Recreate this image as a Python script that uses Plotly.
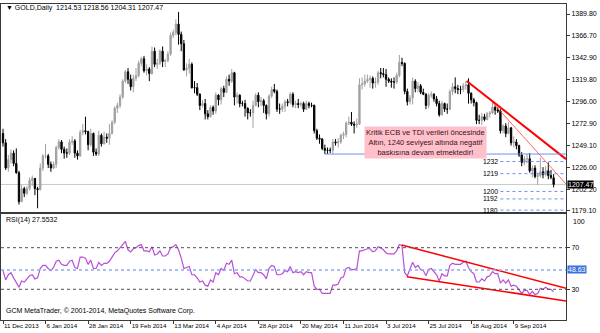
import pandas as pd
import plotly.graph_objects as go

# ---------------- data ----------------
opens = [
    1262,1252,1225,1234,1241,1230,1220,1189,1203,1198,1203,1212,1214,1203,
    1202,1225,1238,1238,1229,1225,1229,1247,1253,1245,1241,1241,1253,1254,1241,1238,1263,1265,1264,1250,1262,1242,
    1240,1260,1251,1258,1257,1262,1274,1289,1292,1301,1318,1328,1320,1312,1321,1324,1337,1342,1329,1331,
    1326,1350,1336,1337,1350,1339,1340,1347,1367,1370,1379,1368,1358,1330,1332,1336,1311,1311,1304,1292,1294,
    1283,1280,1290,1286,1303,1298,1310,1306,1320,1318,1327,1301,1303,1294,1294,1289,1284,1284,1292,1303,1296,1297,
    1292,1283,1302,1309,1307,1288,1288,1291,1296,1295,1304,1293,1294,1293,1294,1288,1294,1292,1292,1265,1257,1256,
    1246,1244,1244,1244,1253,1252,1253,1260,1261,1273,1274,1272,1271,1272,1314,1315,1318,1320,1321,1316,1317,
    1327,1326,1325,1320,1318,1317,1317,1324,1338,1337,1307,1296,1300,1318,1310,1313,1306,1304,1292,1303,1304,1299,1294,
    1282,1294,1288,1288,1307,1312,1310,1309,1309,1313,1314,1305,1298,1295,1276,1276,1280,1277,1283,1284,1290,
    1287,1286,1265,1270,1262,1268,1252,1253,1249,1239,1231,1235,1235,1222,1225,1216,1217,1221,1218,1222,1217,1214.53,
]
highs = [
    1267,1256,1239,1245,1244,1246,1222,1207,1205,1206,1215,1217,1214,1205,
    1230,1240,1251,1240,1232,1232,1249,1256,1255,1248,1246,1256,1259,1256,1244,1266,1272,1280,1265,1267,1263,1246,
    1265,1262,1264,1262,1272,1276,1291,1295,1304,1320,1330,1332,1325,1325,1332,1340,1344,1345,1336,1333,
    1355,1354,1342,1352,1355,1342,1350,1370,1373,1384,1392,1371,1362,1337,1342,1338,1318,1316,1305,1298,1299,
    1287,1292,1292,1306,1304,1312,1313,1323,1325,1331,1328,1306,1304,1297,1298,1290,1288,1297,1305,1306,1301,1299,
    1293,1304,1312,1315,1309,1294,1294,1298,1299,1306,1306,1297,1299,1296,1296,1297,1296,1295,1293,1267,1261,1257,
    1250,1247,1247,1256,1256,1257,1262,1264,1275,1280,1285,1275,1278,1321,1322,1325,1325,1324,1323,1322,1329,
    1332,1332,1331,1322,1321,1322,1327,1346,1343,1338,1310,1303,1322,1320,1317,1315,1310,1305,1305,1307,1305,1302,1297,
    1297,1295,1294,1309,1316,1322,1314,1313,1316,1318,1321,1306,1300,1296,1282,1284,1283,1285,1286,1296,1292,
    1290,1288,1272,1273,1274,1269,1259,1256,1250,1242,1238,1240,1241,1228,1228,1220,1236,1226,1227,1231,1223,1218.56,
]
lows = [
    1248,1223,1221,1230,1227,1219,1186,1189,1194,1196,1201,1206,1196,1182,
    1201,1222,1235,1225,1221,1224,1225,1245,1241,1235,1236,1239,1250,1236,1234,1237,1260,1261,1244,1248,1238,1238,
    1238,1248,1250,1252,1250,1261,1272,1284,1289,1299,1316,1315,1308,1306,1318,1322,1334,1327,1324,1318,
    1325,1333,1331,1335,1333,1333,1338,1345,1364,1367,1357,1350,1329,1323,1326,1310,1305,1302,1287,1290,1277,
    1277,1279,1282,1283,1292,1293,1301,1305,1313,1316,1292,1294,1290,1291,1280,1277,1280,1268,1291,1290,1291,1284,
    1277,1280,1300,1305,1285,1283,1285,1285,1291,1293,1290,1289,1289,1290,1285,1287,1289,1290,1262,1255,1251,1244,
    1240,1240,1241,1240,1249,1247,1251,1256,1258,1271,1270,1262,1268,1271,1309,1312,1316,1311,1310,1311,1314,
    1321,1322,1312,1316,1311,1310,1315,1322,1334,1304,1292,1293,1293,1306,1306,1304,1303,1288,1289,1300,1296,1291,1280,
    1281,1285,1283,1287,1303,1305,1304,1304,1306,1309,1294,1294,1291,1272,1272,1271,1275,1276,1279,1283,1282,
    1284,1262,1262,1258,1261,1249,1247,1245,1237,1227,1228,1230,1220,1215,1214,1207,1215,1214,1216,1213,1213,1204.31,
]
closes = [
    1252,1225,1234,1241,1230,1220,1189,1203,1198,1203,1212,1214,1203,1202,
    1225,1238,1238,1229,1225,1229,1247,1253,1245,1241,1241,1253,1254,1241,1238,1263,1265,1264,1250,1262,1242,1240,
    1260,1251,1258,1257,1262,1274,1289,1292,1301,1318,1328,1320,1312,1321,1324,1337,1342,1329,1331,1326,
    1350,1336,1337,1350,1339,1340,1347,1367,1370,1379,1368,1358,1330,1332,1336,1311,1311,1304,1292,1294,1283,
    1280,1290,1286,1303,1298,1310,1306,1320,1318,1327,1301,1303,1294,1294,1289,1284,1284,1292,1303,1296,1297,1292,
    1283,1302,1309,1307,1288,1288,1291,1296,1295,1304,1293,1294,1293,1294,1288,1294,1292,1292,1265,1257,1256,1246,
    1244,1244,1244,1253,1252,1253,1260,1261,1273,1274,1272,1271,1272,1314,1315,1318,1320,1321,1316,1317,1327,
    1326,1325,1320,1318,1317,1317,1324,1338,1337,1307,1296,1300,1318,1310,1313,1306,1304,1292,1303,1304,1299,1294,1282,
    1294,1288,1288,1307,1312,1310,1309,1309,1313,1314,1305,1298,1295,1276,1276,1280,1277,1283,1284,1290,1287,
    1286,1265,1270,1262,1268,1252,1253,1249,1239,1231,1235,1235,1222,1225,1216,1217,1221,1218,1222,1217,1215,1207.47,
]
rsi = [
    48,39,44,46,41,37,32,38,37,40,43,44,40,41,
    50,53,53,50,48,51,57,58,54,53,53,57,58,51,50,61,61,60,54,58,50,50,
    56,53,55,55,57,61,65,67,70,74,76,68,66,69,70,72,73,67,67,66,
    71,63,64,67,62,62,64,70,71,73,68,60,50,51,52,44,44,41,37,38,34,
    33,39,37,46,44,50,48,55,54,58,45,46,42,42,40,38,38,43,49,46,46,44,
    40,50,53,52,44,44,45,48,47,52,46,47,46,47,44,47,46,46,33,30,30,26,
    26,26,26,34,34,35,41,42,50,51,49,49,50,67,67,68,69,69,66,67,71,
    70,68,65,64,64,64,67,73,72,46,43,49,56,51,53,49,48,43,49,50,47,44,38,
    45,43,43,53,55,54,54,54,56,57,51,47,45,37,37,40,38,42,43,47,45,
    45,36,39,36,39,33,34,33,29,26,29,29,25,28,25,26,31,30,32,30,30,27.5532,
]
holidays = ["2013-12-25", "2014-01-01"]
price_ticks = [1389.80, 1366.70, 1342.90, 1319.80, 1296.00, 1272.90, 1249.10, 1226.00, 1202.20, 1179.10]
rsi_levels = [30, 70]
rsi_marker_level = 48.63
support_level = 1240
support_start = "2014-06-02"
level_values = [1232, 1219, 1200, 1192, 1180]
level_start = "2014-09-02"
# trend lines: (bar date position, value) pairs
trend_thick_x = [174.3, 211.65]
trend_thick_y = [1318.1, 1234.6]
trend_thin_x = [184.2, 211.65]
trend_thin_y = [1294.6, 1208.0]
rsi_trend_top_x = [149.9, 211.65]
rsi_trend_top_y = [72.6, 31.0]
rsi_trend_bot_x = [151.8, 211.65]
rsi_trend_bot_y = [42.1, 18.8]
note_text = "Kritik ECB ve TDI verileri öncesinde<br>Altın, 1240 seviyesi altında negatif<br>baskısına devam etmektedir!"
note_pos = (159.0, 1252.4)

# ---------------- build ----------------
dates = pd.bdate_range("2013-12-11", "2014-09-30")
dates = dates[~dates.isin(pd.to_datetime(holidays))]
n = len(dates)
idx = list(range(n))
for arr in (opens, highs, lows, closes, rsi):
    assert len(arr) == n, (len(arr), n)

tick_idx = idx[::16]
tick_text = [f"{d.day} {d.strftime('%b %Y')}" for d in dates[::16]]
pos = {d.strftime("%Y-%m-%d"): i for i, d in enumerate(dates)}

FONT = "Liberation Sans"
FRAME = "#3a3a3a"
XR = [-0.75, 211.65]
W, H = 600, 333
ml, mr, mt, mb = 1, 34, 4, 13
pw = W - ml - mr
ph = H - mt - mb
main_dom = [(H - mb - 212) / ph, 1.0]
rsi_dom = [0.0, (H - mb - 214) / ph]

fig = go.Figure()
fig.add_trace(go.Candlestick(
    x=idx, open=opens, high=highs, low=lows, close=closes,
    increasing=dict(line=dict(color="#a0a0a0", width=1), fillcolor="#a0a0a0"),
    decreasing=dict(line=dict(color="#000000", width=1), fillcolor="#000000"),
    whiskerwidth=0, xaxis="x", yaxis="y", hoverinfo="skip", showlegend=False))

fig.add_trace(go.Scatter(x=trend_thick_x, y=trend_thick_y, mode="lines",
                         line=dict(color="#ff0000", width=2), xaxis="x", yaxis="y", showlegend=False))
fig.add_trace(go.Scatter(x=trend_thin_x, y=trend_thin_y, mode="lines",
                         line=dict(color="#ff4040", width=0.8), xaxis="x", yaxis="y", showlegend=False))

fig.add_trace(go.Scatter(x=idx, y=rsi, mode="lines", line=dict(color="#b84fd8", width=1.2),
                         xaxis="x2", yaxis="y2", showlegend=False))
fig.add_trace(go.Scatter(x=rsi_trend_top_x, y=rsi_trend_top_y, mode="lines",
                         line=dict(color="#ff0000", width=1.5), xaxis="x2", yaxis="y2", showlegend=False))
fig.add_trace(go.Scatter(x=rsi_trend_bot_x, y=rsi_trend_bot_y, mode="lines",
                         line=dict(color="#ff0000", width=1.5), xaxis="x2", yaxis="y2", showlegend=False))

shapes = []
shapes.append(dict(type="line", xref="x domain", yref="y", x0=0, x1=1, y0=closes[-1], y1=closes[-1],
                   line=dict(color="#c8c8c8", width=1), layer="below"))
shapes.append(dict(type="line", xref="x", yref="y", x0=pos[support_start], x1=XR[1],
                   y0=support_level, y1=support_level, line=dict(color="#6f8ff0", width=1)))
for v in level_values:
    shapes.append(dict(type="line", xref="x", yref="y", x0=pos[level_start], x1=XR[1], y0=v, y1=v,
                       line=dict(color="#6f8ff0", width=1, dash="dot")))
for v in rsi_levels:
    shapes.append(dict(type="line", xref="x2 domain", yref="y2", x0=0, x1=1, y0=v, y1=v,
                       line=dict(color="#505050", width=1, dash="dot")))
shapes.append(dict(type="line", xref="x2 domain", yref="y2", x0=0, x1=1, y0=rsi_marker_level, y1=rsi_marker_level,
                   line=dict(color="#8fa8f5", width=1.5, dash="dot")))

ann = []
ann.append(dict(xref="paper", yref="paper", x=3 / pw, y=1 - 4 / ph, xanchor="left", yanchor="middle",
                text=f"▼ GOLD,Daily  {opens[-1]:.2f} {highs[-1]:.2f} {lows[-1]:.2f} {closes[-1]:.2f}",
                showarrow=False, font=dict(family=FONT, size=7, color="#000")))
ann.append(dict(xref="paper", yref="paper", x=3 / pw, y=(H - mb - 220) / ph, xanchor="left", yanchor="middle",
                text=f"RSI(14) {rsi[-1]:.4f}", showarrow=False, font=dict(family=FONT, size=7, color="#000")))
ann.append(dict(xref="paper", yref="paper", x=3 / pw, y=(H - mb - 311) / ph, xanchor="left", yanchor="middle",
                text="GCM MetaTrader, © 2001-2014, MetaQuotes Software Corp.", showarrow=False,
                font=dict(family=FONT, size=7, color="#000")))
ann.append(dict(xref="x", yref="y", x=note_pos[0], y=note_pos[1], text=note_text, showarrow=False,
                bgcolor="#ffc0cb", borderpad=1, align="center",
                font=dict(family=FONT, size=7.5, color="#3a1018")))
for v in level_values:
    ann.append(dict(xref="x", yref="y", x=pos[level_start], y=v, text=str(v), showarrow=False,
                    xanchor="right", xshift=-1, yanchor="middle", borderpad=0,
                    font=dict(family=FONT, size=6.8, color="#000")))
ann.append(dict(xref="paper", yref="y", x=1, y=closes[-1], text=f"{closes[-1]:.2f}", showarrow=False,
                xanchor="left", xshift=1, yanchor="middle", bgcolor="#000000", borderpad=0,
                font=dict(family=FONT, size=7, color="#ffffff")))
ann.append(dict(xref="paper", yref="y2", x=1, y=rsi_marker_level, text=f"{rsi_marker_level:.2f}", showarrow=False,
                xanchor="left", xshift=1, yanchor="middle", bgcolor="#3c6fe0", borderpad=0,
                font=dict(family=FONT, size=7, color="#ffffff")))
for v, sh in ((100, -5), (0, 4)):
    ann.append(dict(xref="paper", yref="y2", x=1, y=v, yshift=sh, text=str(v), showarrow=False,
                    xanchor="left", xshift=5, yanchor="middle", font=dict(family=FONT, size=7, color="#000")))

axis_common = dict(showgrid=False, zeroline=False, showline=True, linecolor=FRAME, linewidth=1,
                   mirror=True, automargin=False)
fig.update_layout(
    width=W, height=H, margin=dict(l=ml, r=mr, t=mt, b=mb),
    paper_bgcolor="white", plot_bgcolor="white", showlegend=False,
    font=dict(family=FONT, size=7, color="#000"),
    shapes=shapes, annotations=ann,
    xaxis=dict(domain=[0, 1], anchor="y", range=XR, showticklabels=False, ticks="",
               rangeslider=dict(visible=False), **axis_common),
    yaxis=dict(domain=main_dom, anchor="x", side="right", range=[1178.0, 1400.5],
               tickvals=price_ticks, ticktext=[f"{v:.2f}" for v in price_ticks],
               ticks="outside", ticklen=3, tickcolor=FRAME, tickfont=dict(size=7), **axis_common),
    xaxis2=dict(domain=[0, 1], anchor="y2", range=XR, tickvals=tick_idx, ticktext=tick_text,
                ticks="outside", ticklen=3, tickcolor=FRAME, ticklabelposition="outside right",
                tickangle=0, tickfont=dict(size=6.2), **axis_common),
    yaxis2=dict(domain=rsi_dom, anchor="x2", side="right", range=[0.48, 102.4],
                tickvals=rsi_levels, ticks="outside", ticklen=3, tickcolor=FRAME,
                tickfont=dict(size=7), **axis_common),
)
fig.write_html("out.html", config={"displayModeBar": False})
